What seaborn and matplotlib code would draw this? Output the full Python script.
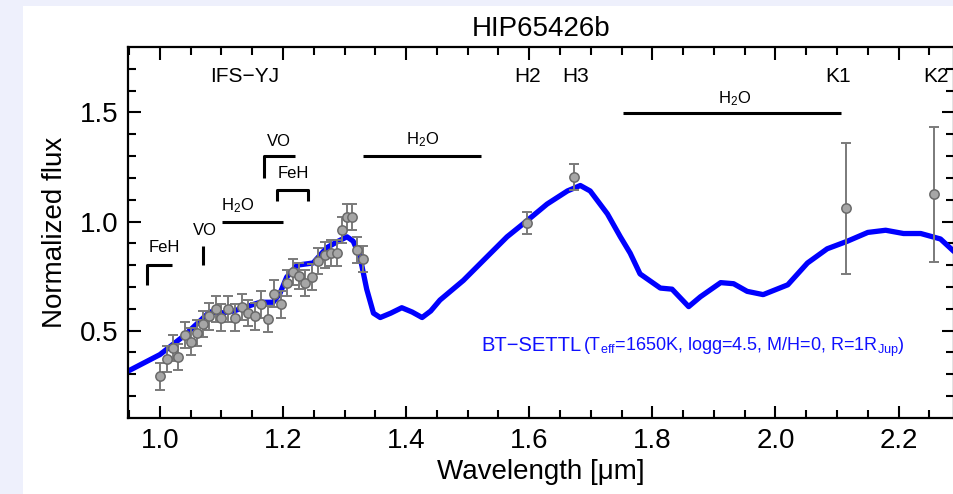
import matplotlib
matplotlib.use("Agg")
import matplotlib.pyplot as plt
import seaborn as sns

# BT-SETTL model
model_wl = [0.948, 1.000, 1.040, 1.081, 1.098, 1.120, 1.141, 1.163, 1.184, 1.195,
            1.206, 1.223, 1.249, 1.271, 1.290, 1.304, 1.314, 1.325, 1.336, 1.347,
            1.358, 1.375, 1.393, 1.410, 1.426, 1.440, 1.455, 1.493, 1.532, 1.564,
            1.597, 1.629, 1.662, 1.683, 1.699, 1.727, 1.748, 1.764, 1.780, 1.813,
            1.832, 1.859, 1.878, 1.911, 1.932, 1.954, 1.980, 2.020, 2.052, 2.084,
            2.117, 2.150, 2.179, 2.208, 2.236, 2.268, 2.291]
model_flux = [0.314, 0.390, 0.478, 0.586, 0.580, 0.590, 0.610, 0.630, 0.630, 0.670,
              0.745, 0.800, 0.810, 0.880, 0.910, 0.930, 0.910, 0.840, 0.690, 0.580,
              0.560, 0.580, 0.605, 0.585, 0.560, 0.590, 0.640, 0.730, 0.840, 0.930,
              1.005, 1.080, 1.140, 1.165, 1.140, 1.035, 0.930, 0.855, 0.760, 0.695,
              0.690, 0.610, 0.655, 0.720, 0.715, 0.680, 0.665, 0.710, 0.810, 0.875,
              0.910, 0.950, 0.960, 0.945, 0.945, 0.920, 0.860]

# observed photometry / spectrum
obs_wl = [1.000, 1.011, 1.021, 1.030, 1.041, 1.050, 1.060, 1.070, 1.080, 1.091,
          1.100, 1.111, 1.122, 1.133, 1.143, 1.154, 1.165, 1.176, 1.185, 1.197,
          1.206, 1.216, 1.226, 1.236, 1.247, 1.257, 1.268, 1.278, 1.287, 1.296,
          1.304, 1.312, 1.321, 1.330, 1.597, 1.672, 2.115, 2.257]
obs_flux = [0.29, 0.37, 0.42, 0.38, 0.48, 0.45, 0.49, 0.53, 0.565, 0.60,
            0.56, 0.60, 0.56, 0.61, 0.58, 0.565, 0.62, 0.555, 0.67, 0.62,
            0.72, 0.77, 0.75, 0.72, 0.745, 0.82, 0.845, 0.855, 0.855, 0.96,
            1.02, 1.02, 0.87, 0.83, 0.995, 1.205, 1.06, 1.125]
obs_err = [0.06, 0.06, 0.06, 0.06, 0.06, 0.06, 0.06, 0.06, 0.06, 0.06,
           0.06, 0.06, 0.06, 0.06, 0.06, 0.06, 0.06, 0.06, 0.06, 0.06,
           0.06, 0.06, 0.06, 0.06, 0.06, 0.06, 0.06, 0.06, 0.06, 0.06,
           0.06, 0.06, 0.06, 0.06, 0.05, 0.06, 0.30, 0.31]

# filter names along the top
band_names = ["IFS\u2212YJ", "H2", "H3", "K1", "K2"]
band_wl = [1.138, 1.597, 1.675, 2.102, 2.26]

# absorption features: label, line x, line y, label position
feat_names = ["FeH", "VO", "H$_\\mathrm{2}$O", "VO", "FeH", "H$_\\mathrm{2}$O", "H$_\\mathrm{2}$O"]
feat_x = [[0.979, 0.979, 1.020], [1.070, 1.070], [1.101, 1.200], [1.169, 1.169, 1.220],
          [1.190, 1.190, 1.241, 1.241], [1.330, 1.522], [1.753, 2.106]]
feat_y = [[0.71, 0.80, 0.80], [0.80, 0.89], [1.00, 1.00], [1.20, 1.30, 1.30],
          [1.095, 1.145, 1.145, 1.095], [1.30, 1.30], [1.495, 1.495]]
feat_lx = [1.0065, 1.073, 1.127, 1.193, 1.216, 1.426, 1.933]
feat_ly = [0.88, 0.96, 1.073, 1.368, 1.218, 1.373, 1.564]

sns.set_style("ticks")
plt.rcParams["font.family"] = ["Liberation Sans", "DejaVu Sans"]
plt.rcParams["mathtext.fontset"] = "custom"
plt.rcParams["mathtext.rm"] = "Liberation Sans"
plt.rcParams["mathtext.it"] = "Liberation Sans:italic"
plt.rcParams["axes.unicode_minus"] = True
for k in ["text.color", "axes.labelcolor", "xtick.color", "ytick.color", "axes.edgecolor"]:
    plt.rcParams[k] = "black"

fig = plt.figure(figsize=(9.54, 4.94), dpi=100, facecolor="#eef0fc")
fig.patches.append(plt.Rectangle((23 / 954, 0), 1, 1 - 6 / 494, transform=fig.transFigure,
                                 facecolor="white", edgecolor="none", zorder=-10))
ax = fig.add_axes([0.134, 0.154, 0.866, 0.751])
ax.set_facecolor("white")

sns.lineplot(x=model_wl, y=model_flux, ax=ax, color="#0000ff", lw=3.8, sort=False,
             zorder=2, solid_capstyle="round", solid_joinstyle="round")
ax.errorbar(obs_wl, obs_flux, yerr=obs_err, fmt="none", ecolor="#7a7a7a",
            elinewidth=1.4, capsize=3.5, capthick=1.4, zorder=3)
sns.scatterplot(x=obs_wl, y=obs_flux, ax=ax, color="#a6a6a6", edgecolor="#6a6a6a",
                linewidth=1.1, s=45, zorder=4)

for name, wl in zip(band_names, band_wl):
    ax.text(wl, 1.664, name, ha="center", va="center", fontsize=15)

for name, xs, ys, lx, ly in zip(feat_names, feat_x, feat_y, feat_lx, feat_ly):
    ax.plot(xs, ys, color="black", lw=2.2, solid_capstyle="butt")
    ax.text(lx, ly, name, ha="center", va="center", fontsize=12)

t1 = ax.text(1.522, 0.405, "BT\u2212SETTL", color="#1010ff", fontsize=14.5,
             ha="left", va="baseline")
ax.annotate("(T$_\\mathrm{eff}$=1650K, logg=4.5, M/H=0, R=1R$_\\mathrm{Jup}$)",
            xy=(1, 0), xycoords=t1, xytext=(1.5, -2.5), textcoords="offset points",
            ha="left", va="bottom", color="#1010ff", fontsize=13)

ax.set_xlim(0.948, 2.29)
ax.set_ylim(0.1, 1.8)
ax.set_xticks([1.0, 1.2, 1.4, 1.6, 1.8, 2.0, 2.2])
ax.set_xticks([x / 100 for x in range(95, 230, 5)], minor=True)
ax.set_yticks([0.5, 1.0, 1.5])
ax.set_yticks([y / 10 for y in range(2, 18)], minor=True)
ax.tick_params(which="both", direction="in", top=True, right=True, width=1.5,
               labelsize=20, pad=7, color="black", labelcolor="black")
ax.tick_params(which="major", length=9)
ax.tick_params(which="minor", length=6)
for s in ax.spines.values():
    s.set_linewidth(1.6)
    s.set_color("black")

ax.set_xlabel("Wavelength [\u03bcm]", fontsize=20, labelpad=4)
ax.set_ylabel("Normalized flux", fontsize=20, labelpad=8)
ax.set_title("HIP65426b", fontsize=20, pad=8)

fig.savefig("out.png", dpi=100, facecolor=fig.get_facecolor())
